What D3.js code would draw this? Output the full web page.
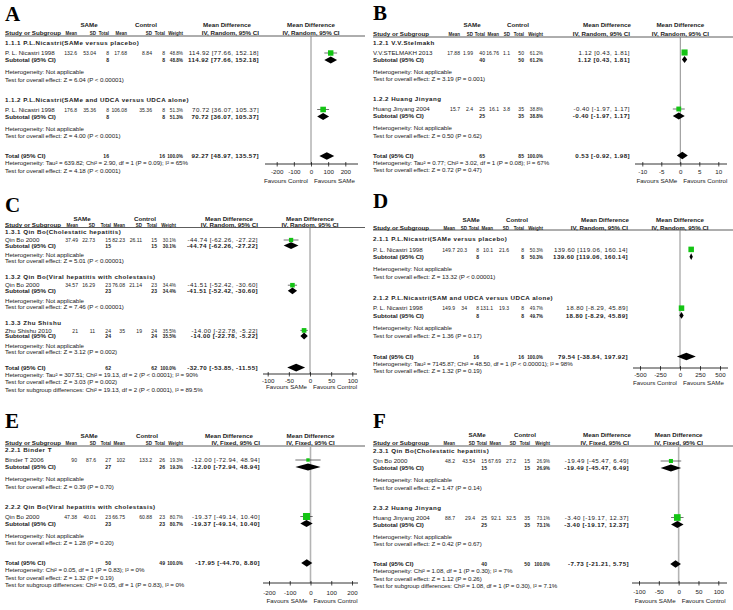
<!DOCTYPE html>
<html>
<head>
<meta charset="utf-8">
<script src="https://cdn.jsdelivr.net/npm/d3@7"></script>
<style>
  body { margin: 0; background: #fff; }
  svg text { font-family: "Liberation Sans", Arial, sans-serif; font-size: 6.2px; fill: #1a1a1a; }
  svg text.b { font-weight: bold; }
  svg text.title { letter-spacing: 0.45px; }
  svg text.ci { letter-spacing: 0.4px; }
  svg text.foot { letter-spacing: -0.08px; }
  svg text.letter { font-family: "Liberation Serif", "Times New Roman", serif; font-size: 21px; font-weight: bold; fill: #000; }
</style>
</head>
<body>
<div id="chart-container"></div>
<script>
// ---- data ----
var panelIds = ["A", "B", "C", "D", "E", "F"];
var effectModel = ["IV, Random, 95% CI", "IV, Random, 95% CI", "IV, Random, 95% CI",
                   "IV, Random, 95% CI", "IV, Fixed, 95% CI", "IV, Fixed, 95% CI"];

var subgroupTitles = [
  ["1.1.1 P.L.Nicastri(SAMe versus placebo)", "1.1.2 P.L.Nicastri(SAMe and UDCA versus UDCA alone)"],
  ["1.2.1 V.V.Stelmakh", "1.2.2 Huang Jinyang"],
  ["1.3.1 Qin Bo(Cholestatic hepatitis)", "1.3.2 Qin Bo(Viral hepatitis with cholestasis)", "1.3.3 Zhu Shishu"],
  ["2.1.1 P.L.Nicastri(SAMe versus placebo)", "2.1.2 P.L.Nicastri(SAM and UDCA versus UDCA alone)"],
  ["2.2.1 Binder T", "2.2.2 Qin Bo(Viral hepatitis with cholestasis)"],
  ["2.3.1 Qin Bo(Cholestatic hepatitis)", "2.3.2 Huang Jinyang"]
];
var studyNames = [
  ["P. L. Nicastri 1998", "P. L. Nicastri 1998"],
  ["V.V.STELMAKH 2013", "Huang Jinyang 2004"],
  ["Qin Bo 2000", "Qin Bo 2000", "Zhu Shishu 2010"],
  ["P. L. Nicastri 1998", "P. L. Nicastri 1998"],
  ["Binder T 2006", "Qin Bo 2000"],
  ["Qin Bo 2000", "Huang Jinyang 2004"]
];
var samMean = [[132.6, 176.8], [17.88, 15.7], [37.49, 34.57, 21], [149.7, 149.9], [90, 47.38], [48.2, 88.7]];
var samSD   = [[53.04, 35.36], [1.99, 2.4], [22.73, 16.29, 11], [20.3, 34], [87.6, 40.01], [43.54, 29.4]];
var samN    = [[8, 8], [40, 25], [15, 23, 24], [8, 8], [27, 23], [15, 25]];
var ctlMean = [[17.68, 106.08], [16.76, 16.1], [82.23, 76.08, 35], [10.1, 131.1], [102, 66.75], [67.69, 92.1]];
var ctlSD   = [[8.84, 35.36], [1.1, 3.8], [26.11, 21.14, 19], [21.6, 19.3], [133.2, 60.88], [27.2, 32.5]];
var ctlN    = [[8, 8], [50, 35], [15, 23, 24], [8, 8], [26, 23], [15, 35]];
var weight  = [[48.8, 51.3], [61.2, 38.8], [30.1, 34.4, 35.5], [50.3, 49.7], [19.3, 80.7], [26.9, 73.1]];
var meanDiff = [[114.92, 70.72], [1.12, -0.40], [-44.74, -41.51, -14.00], [139.60, 18.80], [-12.00, -19.37], [-19.49, -3.40]];
var ciLow    = [[77.66, 36.07], [0.43, -1.97], [-62.26, -52.42, -22.78], [119.06, -8.29], [-72.94, -49.14], [-45.47, -19.17]];
var ciHigh   = [[152.18, 105.37], [1.81, 1.17], [-27.22, -30.60, -5.22], [160.14, 45.89], [48.94, 10.40], [6.49, 12.37]];
var subgroupEffect = [
  ["Z = 6.04 (P < 0.00001)", "Z = 4.00 (P < 0.0001)"],
  ["Z = 3.19 (P = 0.001)", "Z = 0.50 (P = 0.62)"],
  ["Z = 5.01 (P < 0.00001)", "Z = 7.46 (P < 0.00001)", "Z = 3.12 (P = 0.002)"],
  ["Z = 13.32 (P < 0.00001)", "Z = 1.36 (P = 0.17)"],
  ["Z = 0.39 (P = 0.70)", "Z = 1.28 (P = 0.20)"],
  ["Z = 1.47 (P = 0.14)", "Z = 0.42 (P = 0.67)"]
];
var totalSamN = [16, 65, 62, 16, 50, 40];
var totalCtlN = [16, 85, 62, 16, 49, 50];
var totalMD   = [92.27, 0.53, -32.70, 79.54, -17.95, -7.73];
var totalLow  = [48.97, -0.92, -53.85, -38.84, -44.70, -21.21];
var totalHigh = [135.57, 1.98, -11.55, 197.92, 8.80, 5.75];
var totalHeterogeneity = [
  "Tau\u00b2 = 639.82; Chi\u00b2 = 2.90, df = 1 (P = 0.09); I\u00b2 = 65%",
  "Tau\u00b2 = 0.77; Chi\u00b2 = 3.02, df = 1 (P = 0.08); I\u00b2 = 67%",
  "Tau\u00b2 = 307.51; Chi\u00b2 = 19.13, df = 2 (P < 0.0001); I\u00b2 = 90%",
  "Tau\u00b2 = 7145.87; Chi\u00b2 = 48.50, df = 1 (P < 0.00001); I\u00b2 = 98%",
  "Chi\u00b2 = 0.05, df = 1 (P = 0.83); I\u00b2 = 0%",
  "Chi\u00b2 = 1.08, df = 1 (P = 0.30); I\u00b2 = 7%"
];
var totalEffect = ["Z = 4.18 (P < 0.0001)", "Z = 0.72 (P = 0.47)", "Z = 3.03 (P = 0.002)",
                   "Z = 1.32 (P = 0.19)", "Z = 1.32 (P = 0.19)", "Z = 1.12 (P = 0.26)"];
var subgroupDifferences = [null, null,
  "Chi\u00b2 = 19.13, df = 2 (P < 0.0001), I\u00b2 = 89.5%", null,
  "Chi\u00b2 = 0.05, df = 1 (P = 0.83), I\u00b2 = 0%",
  "Chi\u00b2 = 1.08, df = 1 (P = 0.30), I\u00b2 = 7.1%"];
var axisTicks = [[-200, -100, 0, 100, 200], [-10, -5, 0, 5, 10], [-100, -50, 0, 50, 100],
                 [-500, -250, 0, 250, 500], [-200, -100, 0, 100, 200], [-100, -50, 0, 50, 100]];
var favoursLeft  = ["Favours Control", "Favours SAMe", "Favours SAMe", "Favours Control", "Favours SAMe", "Favours SAMe"];
var favoursRight = ["Favours SAMe", "Favours Control", "Favours Control", "Favours SAMe", "Favours Control", "Favours Control"];

// ---- layout of each panel (pixels) ----
var layout = [
  {ox: 5,   letterY: 21,  h1: 25,  h2: 33,  lineY: 36,    lineX1: 365, y0: 43,   s: 1,
   cols: [77, 96, 109, 127, 152, 165, 183], ciX: 259, samX: 89, ctlX: 146, mdX: 227,
   px: [276.7, 345.3], axisX: [265, 358], axisY: 164, lblDy: 8, favDy: 17, light: false},
  {ox: 373, letterY: 20,  h1: 25,  h2: 34,  lineY: 37,    lineX1: 733, y0: 42.5, s: 1,
   cols: [460, 473, 485, 499, 510, 524, 543], ciX: 630, samX: 472, ctlX: 518, mdX: 607,
   px: [642.3, 718.3], axisX: [635, 727], axisY: 164, lblDy: 8, favDy: 17, light: false},
  {ox: 5,   letterY: 212, h1: 219, h2: 225, lineY: 227.5, lineX1: 365, y0: 232,  s: 0.8,
   cols: [78, 95, 111, 125, 142, 157, 176], ciX: 258, samX: 82, ctlX: 145, mdX: 229,
   px: [267.7, 352.3], axisX: [263, 357], axisY: 374, lblDy: 6.5, favDy: 13, light: false},
  {ox: 373, letterY: 208, h1: 220, h2: 228, lineY: 230,   lineX1: 733, y0: 239,  s: 1.04,
   cols: [455, 467, 479, 493, 509, 524, 543], ciX: 628, samX: 471, ctlX: 517, mdX: 605,
   px: [640, 720], axisX: [633, 728], axisY: 368, lblDy: 6.5, favDy: 15, light: false},
  {ox: 5,   letterY: 428, h1: 436, h2: 443, lineY: 446,   lineX1: 365, y0: 450,  s: 1,
   cols: [77, 96, 111, 125, 152, 165, 183], ciX: 260, samX: 89, ctlX: 147, mdX: 229,
   px: [269, 352], axisX: [263, 358], axisY: 583, lblDy: 10, favDy: 18, light: true},
  {ox: 373, letterY: 428, h1: 435, h2: 443, lineY: 446,   lineX1: 733, y0: 451,  s: 1,
   cols: [455, 475, 487, 501, 516, 530, 550], ciX: 629, samX: 477, ctlX: 525, mdX: 607,
   px: [639, 718.3], axisX: [632, 727], axisY: 583, lblDy: 9, favDy: 18, light: true}
];

var width = 733, height = 610;
var svg = d3.select("#chart-container")
  .append("svg")
    .attr("width", width)
    .attr("height", height);

var green = "#14c414";

function ciText(m, lo, hi) {
  return m.toFixed(2) + " [" + lo.toFixed(2) + ", " + hi.toFixed(2) + "]";
}

function txt(g, x, y, s, anchor, cls) {
  return g.append("text")
    .attr("x", x).attr("y", y).attr("dy", "0.35em")
    .attr("text-anchor", anchor || "start")
    .attr("class", cls || null)
    .text(s);
}

// table cells are set in a narrow face in the original: keep height, condense width
function cell(g, x, y, s, cls, squeeze) {
  var t = txt(g, x, y, s, "end", cls);
  var w = t.node().getComputedTextLength();
  t.attr("textLength", w * squeeze).attr("lengthAdjust", "spacingAndGlyphs");
  return t;
}

function diamond(g, x, m, lo, hi, y, h) {
  var pts = [[x(lo), y], [x(m), y - h], [x(hi), y], [x(m), y + h]];
  g.append("path")
    .attr("d", "M" + pts.join("L") + "Z")
    .attr("fill", "#000");
}

panelIds.forEach(function(id, p) {
  var L = layout[p];
  var g = svg.append("g").attr("class", "panel");

  var x = d3.scaleLinear()
    .domain(d3.extent(axisTicks[p]))
    .range(L.px);
  var cx = x(0);

  g.append("text").attr("class", "letter")
    .attr("x", L.ox).attr("y", L.letterY).text(id);

  // headers
  txt(g, L.samX, L.h1, "SAMe", "middle", "b");
  txt(g, L.ctlX, L.h1, "Control", "middle", "b");
  txt(g, L.mdX, L.h1, "Mean Difference", "middle", "b");
  txt(g, cx, L.h1, "Mean Difference", "middle", "b");

  txt(g, L.ox, L.h2, "Study or Subgroup", "start", "b");
  ["Mean", "SD", "Total", "Mean", "SD", "Total", "Weight"].forEach(function(h, i) {
    cell(g, L.cols[i], L.h2, h, "b", 0.72);
  });
  txt(g, L.ciX, L.h2, effectModel[p], "end", "b");
  txt(g, cx, L.h2, effectModel[p], "middle", "b");

  g.append("line")
    .attr("x1", L.ox).attr("x2", L.lineX1)
    .attr("y1", L.lineY).attr("y2", L.lineY)
    .attr("stroke", "#333").attr("stroke-width", 0.8);

  // zero line
  g.append("line")
    .attr("x1", cx).attr("x2", cx)
    .attr("y1", L.lineY).attr("y2", L.axisY)
    .attr("stroke", L.light ? "#b4b4b4" : "#808080")
    .attr("stroke-width", L.light ? 1.6 : 0.9);

  // subgroups
  var y = L.y0, s = L.s;
  subgroupTitles[p].forEach(function(title, i) {
    var yStudy = y + 10 * s, ySub = y + 17 * s, yHet = y + 29 * s, yTest = y + 36.5 * s;
    txt(g, L.ox, y, title, "start", "b title");

    txt(g, L.ox, yStudy, studyNames[p][i]);
    var vals = [samMean[p][i], samSD[p][i], samN[p][i], ctlMean[p][i], ctlSD[p][i], ctlN[p][i]];
    vals.forEach(function(v, j) { cell(g, L.cols[j], yStudy, String(v), null, 0.82); });
    cell(g, L.cols[6], yStudy, weight[p][i].toFixed(1) + "%", null, 0.75);
    txt(g, L.ciX, yStudy, ciText(meanDiff[p][i], ciLow[p][i], ciHigh[p][i]), "end", "ci");

    txt(g, L.ox, ySub, "Subtotal (95% CI)", "start", "b");
    cell(g, L.cols[2], ySub, String(samN[p][i]), "b", 0.82);
    cell(g, L.cols[5], ySub, String(ctlN[p][i]), "b", 0.82);
    cell(g, L.cols[6], ySub, weight[p][i].toFixed(1) + "%", "b", 0.75);
    txt(g, L.ciX, ySub, ciText(meanDiff[p][i], ciLow[p][i], ciHigh[p][i]), "end", "b ci");

    txt(g, L.ox, yHet, "Heterogeneity: Not applicable", "start", "foot");
    txt(g, L.ox, yTest, "Test for overall effect: " + subgroupEffect[p][i], "start", "foot");

    // study marker
    g.append("line")
      .attr("x1", x(ciLow[p][i])).attr("x2", x(ciHigh[p][i]))
      .attr("y1", yStudy).attr("y2", yStudy)
      .attr("stroke", "#333").attr("stroke-width", 0.7);
    var side = 0.78 * Math.sqrt(weight[p][i]);
    g.append("rect")
      .attr("x", x(meanDiff[p][i]) - side / 2)
      .attr("y", yStudy - side / 2)
      .attr("width", side).attr("height", side)
      .attr("fill", green);

    diamond(g, x, meanDiff[p][i], ciLow[p][i], ciHigh[p][i], ySub, 3.4);

    y += 56.5 * s;
  });

  // total
  txt(g, L.ox, y, "Total (95% CI)", "start", "b");
  cell(g, L.cols[2], y, String(totalSamN[p]), "b", 0.82);
  cell(g, L.cols[5], y, String(totalCtlN[p]), "b", 0.82);
  cell(g, L.cols[6], y, "100.0%", "b", 0.75);
  txt(g, L.ciX, y, ciText(totalMD[p], totalLow[p], totalHigh[p]), "end", "b ci");
  diamond(g, x, totalMD[p], totalLow[p], totalHigh[p], y, 3.8);

  txt(g, L.ox, y + 7.3, "Heterogeneity: " + totalHeterogeneity[p], "start", "foot");
  txt(g, L.ox, y + 14.6, "Test for overall effect: " + totalEffect[p], "start", "foot");
  if (subgroupDifferences[p]) {
    txt(g, L.ox, y + 21.9, "Test for subgroup differences: " + subgroupDifferences[p], "start", "foot");
  }

  // axis
  g.append("line")
    .attr("x1", L.axisX[0]).attr("x2", L.axisX[1])
    .attr("y1", L.axisY).attr("y2", L.axisY)
    .attr("stroke", "#000").attr("stroke-width", 0.8);

  var axis = d3.axisBottom(x)
    .tickValues(axisTicks[p])
    .tickSize(2.5)
    .tickPadding(1)
    .tickFormat(function(d) { return String(d); });

  var ag = g.append("g")
    .attr("transform", "translate(0," + L.axisY + ")")
    .call(axis);
  ag.select(".domain").remove();
  ag.selectAll(".tick line").attr("y1", -2).attr("stroke", "#000").attr("stroke-width", 0.7);
  ag.selectAll(".tick text")
    .attr("y", L.lblDy).attr("dy", "0.35em")
    .attr("font-size", null).attr("font-family", null);

  txt(g, cx - 3, L.axisY + L.favDy, favoursLeft[p], "end");
  txt(g, cx + 3, L.axisY + L.favDy, favoursRight[p], "start");
});
</script>
</body>
</html>
